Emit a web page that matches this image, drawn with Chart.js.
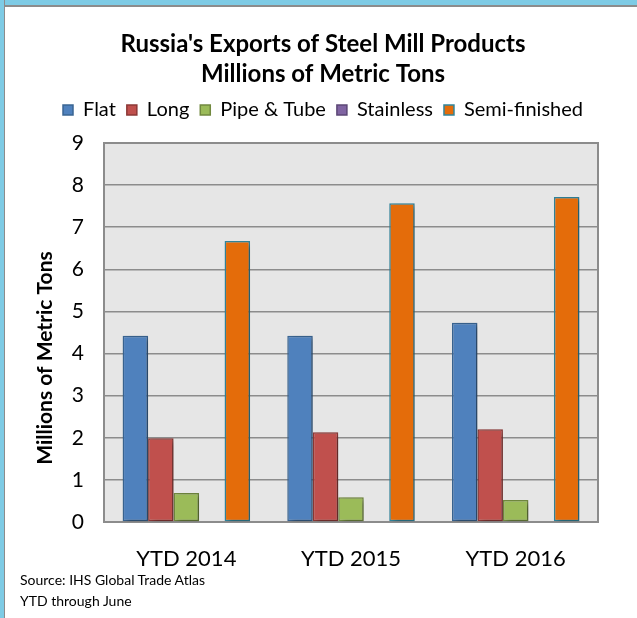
<!DOCTYPE html>
<html lang="en">
<head>
    <meta charset="UTF-8">
    <title>Russia's Exports of Steel Mill Products</title>
    <script src="https://cdn.jsdelivr.net/npm/chart.js"></script>
    <style>
        html, body {
            margin: 0;
            padding: 0;
            background: #fff;
            width: 637px;
            height: 618px;
            overflow: hidden;
        }
        .frame-top {
            position: absolute; left: 0; top: 0; width: 637px; height: 5px;
            background: #7ecbe5; border-bottom: 2px solid #8c8c8c;
        }
        .frame-left {
            position: absolute; left: 0; top: 0; width: 4px; height: 618px;
            background: #7ecbe5; border-right: 1px solid #8c8c8c;
        }
        #chart {
            position: absolute; left: 0; top: 0;
        }
        .note {
            position: absolute; left: 20px;
            font-family: Lato, sans-serif; font-size: 14px; color: #000;
        }
    </style>
</head>
<body>
    <div class="frame-top"></div>
    <div class="frame-left"></div>
    <canvas id="chart" width="637" height="618"></canvas>
    <div class="note" style="top: 571px;">Source: IHS Global Trade Atlas</div>
    <div class="note" style="top: 592px;">YTD through June</div>

    <script>
        // 資料
        const categories = ['YTD 2014', 'YTD 2015', 'YTD 2016'];
        const flat = [4.42, 4.42, 4.73];
        const long = [1.99, 2.13, 2.20];
        const pipeTube = [0.69, 0.59, 0.52];
        const stainless = [0, 0, 0];
        const semiFinished = [6.67, 7.57, 7.72];
        const yTicks = [0, 1, 2, 3, 4, 5, 6, 7, 8, 9];

        const FONT = 'Lato, "Open Sans", sans-serif';
        Chart.defaults.color = '#000';
        Chart.defaults.font.family = FONT;

        // 繪圖區背景、外框與柱子陰影
        const plotDecor = {
            id: 'plotDecor',
            beforeDraw(chart) {
                const { ctx, chartArea: a } = chart;
                ctx.save();
                ctx.fillStyle = '#e6e6e6';
                ctx.fillRect(a.left, a.top, a.right - a.left, a.bottom - a.top);
                ctx.restore();
            },
            beforeDatasetsDraw(chart) {
                const { ctx, chartArea: a } = chart;
                ctx.save();
                ctx.strokeStyle = '#8c8c8c';
                ctx.lineWidth = 2;
                ctx.strokeRect(a.left, a.top, a.right - a.left, a.bottom - a.top);
                ctx.restore();
                ctx.save();
                ctx.shadowColor = 'rgba(0,0,0,0.35)';
                ctx.shadowBlur = 5;
                ctx.shadowOffsetX = 3;
                ctx.shadowOffsetY = 2;
            },
            afterDatasetsDraw(chart) {
                chart.ctx.restore();
            },
            afterDraw(chart) {
                // 縱軸標題
                const { ctx } = chart;
                ctx.save();
                ctx.translate(45, 358);
                ctx.rotate(-Math.PI / 2);
                ctx.font = 'bold 21px ' + FONT;
                ctx.fillStyle = '#000';
                ctx.textAlign = 'center';
                ctx.textBaseline = 'middle';
                ctx.fillText('Millions of Metric Tons', 0, 0);
                ctx.restore();
            }
        };

        const ds = (label, data, fill, border) => ({
            label: label,
            data: data,
            backgroundColor: fill,
            borderColor: border,
            borderWidth: 1.5,
            borderSkipped: false
        });

        new Chart(document.getElementById('chart'), {
            type: 'bar',
            data: {
                labels: categories,
                datasets: [
                    ds('Flat', flat, '#4f81bd', '#3a6593'),
                    ds('Long', long, '#c0504d', '#8c3836'),
                    ds('Pipe & Tube', pipeTube, '#9bbb59', '#71893f'),
                    ds('Stainless', stainless, '#8064a2', '#5c4776'),
                    ds('Semi-finished', semiFinished, '#e46c0a', '#31859c')
                ]
            },
            options: {
                responsive: false,
                animation: false,
                devicePixelRatio: 1,
                layout: { padding: { left: 48, right: 39, top: 0, bottom: 0 } },
                datasets: {
                    bar: { categoryPercentage: 0.774, barPercentage: 1.0 }
                },
                plugins: {
                    title: {
                        display: true,
                        text: ["Russia's Exports of Steel Mill Products", 'Millions of Metric Tons'],
                        font: { size: 24, weight: 'bold', lineHeight: 1.25 },
                        color: '#000',
                        padding: { top: 29, bottom: 0 }
                    },
                    legend: {
                        display: true,
                        labels: {
                            boxWidth: 10,
                            boxHeight: 10,
                            padding: 11,
                            font: { size: 20 }
                        }
                    },
                    subtitle: {
                        display: true,
                        text: '',
                        weight: 500,
                        font: { size: 10, lineHeight: 1 },
                        padding: { top: 0, bottom: 3 }
                    },
                    tooltip: { enabled: false }
                },
                scales: {
                    x: {
                        grid: { display: false, drawTicks: false },
                        border: { display: false },
                        ticks: { padding: 24, font: { size: 22 } },
                        afterFit(scale) { scale.height = 96; }
                    },
                    y: {
                        min: 0,
                        max: 9,
                        afterBuildTicks(scale) {
                            scale.ticks = yTicks.map(v => ({ value: v }));
                        },
                        grid: { color: '#8c8c8c', lineWidth: 1.5, drawTicks: false },
                        border: { display: false },
                        ticks: { padding: 20, font: { size: 21 } },
                        afterFit(scale) { scale.width = 56; }
                    }
                }
            },
            plugins: [plotDecor]
        });
    </script>
</body>
</html>
